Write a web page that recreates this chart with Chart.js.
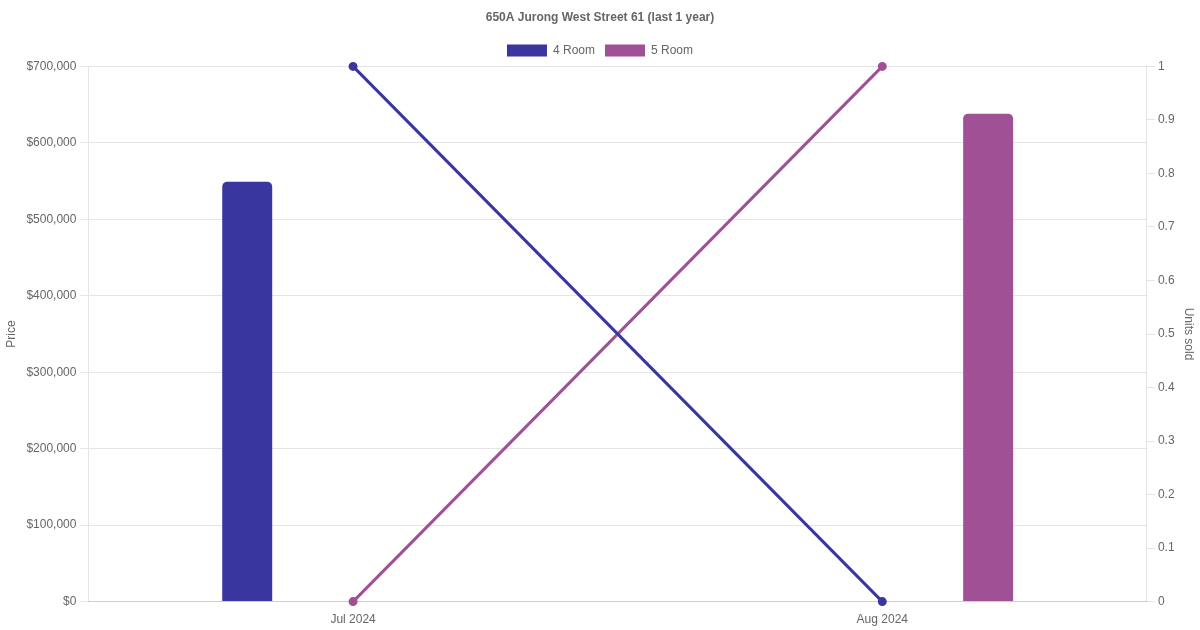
<!DOCTYPE html>
<html>
<head>
<meta charset="utf-8">
<script src="https://cdn.jsdelivr.net/npm/chart.js@4"></script>
<style>
html,body{margin:0;padding:0;background:#fff;}
#wrap{width:1200px;height:630px;position:relative;}
</style>
</head>
<body>
<div id="wrap"><canvas id="c"></canvas></div>
<script>
const categories = ["Jul 2024", "Aug 2024"];
const seriesNames = ["4 Room", "5 Room"];
const price4Room = [549000, null];
const price5Room = [null, 638000];
const units4Room = [1, 0];
const units5Room = [0, 1];
const colors = ["#3a36a0", "#a05195"];

Chart.defaults.font.family = "Arial, 'Liberation Sans', sans-serif";

new Chart(document.getElementById('c'), {
  data: {
    labels: categories,
    datasets: [
      { type: 'line', label: seriesNames[0] + ' units', data: units4Room, yAxisID: 'y1', clip: false,
        borderColor: colors[0], backgroundColor: colors[0], borderWidth: 3, pointRadius: 3, order: 0 },
      { type: 'line', label: seriesNames[1] + ' units', data: units5Room, yAxisID: 'y1', clip: false,
        borderColor: colors[1], backgroundColor: colors[1], borderWidth: 3, pointRadius: 3, order: 0 },
      { type: 'bar', label: seriesNames[0], data: price4Room, yAxisID: 'y',
        backgroundColor: colors[0], borderColor: colors[0], maxBarThickness: 50, borderRadius: 5, order: 1 },
      { type: 'bar', label: seriesNames[1], data: price5Room, yAxisID: 'y',
        backgroundColor: colors[1], borderColor: colors[1], maxBarThickness: 50, borderRadius: 5, order: 1 }
    ]
  },
  options: {
    responsive: true,
    maintainAspectRatio: false,
    animation: false,
    plugins: {
      title: { display: true, text: '650A Jurong West Street 61 (last 1 year)', font: { size: 12, weight: 'bold' } },
      legend: { labels: { filter: (item) => item.datasetIndex >= 2 } },
      tooltip: { enabled: false }
    },
    scales: {
      x: { grid: { display: false } },
      y: {
        type: 'linear', position: 'left', min: 0, max: 700000,
        ticks: { stepSize: 100000, padding: 4, callback: (v) => '$' + v.toLocaleString('en-US') },
        title: { display: true, text: 'Price' }
      },
      y1: {
        type: 'linear', position: 'right', min: 0, max: 1,
        ticks: { stepSize: 0.1, callback: (v) => String(+v.toFixed(1)) },
        grid: { drawOnChartArea: false },
        title: { display: true, text: 'Units sold' }
      }
    }
  }
});
</script>
</body>
</html>
